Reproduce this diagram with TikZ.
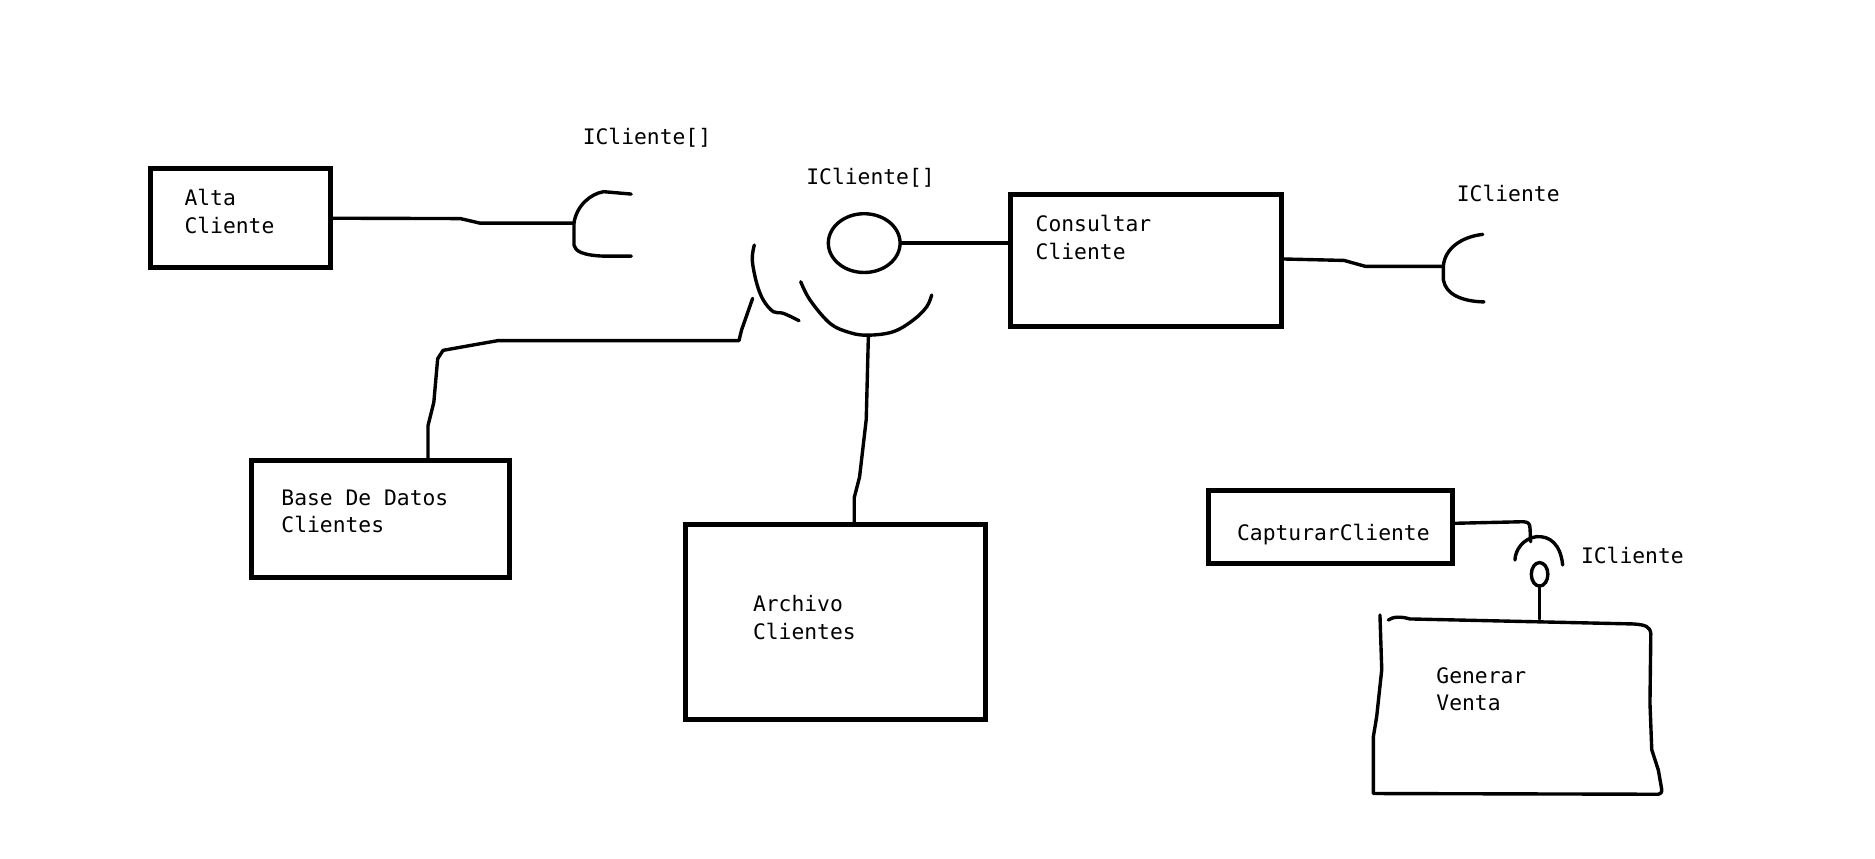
\documentclass[tikz,border=0pt]{standalone}
\usepackage{fontspec}
\setmonofont{DejaVu Sans Mono}
\usetikzlibrary{fit,shapes.geometric}
\begin{document}
\begin{tikzpicture}[x=0.6pt,y=-0.6pt,
  box/.style={draw,line width=2.5pt,inner sep=0pt},
  wire/.style={line width=1.7pt,line join=round,line cap=round},
  txt/.style={anchor=base west,inner sep=0pt,align=left,
    font=\ttfamily\fontsize{10.7pt}{13.74pt}\selectfont},
  ball/.style={draw,ellipse,line width=1.7pt,inner sep=0pt}]
\useasboundingbox (0,0) rectangle (1568,718);

% components
\node[box,fit={(126,141)(276,224)}] (alta) {};
\node[box,fit={(845,163)(1072,273)}] (consultar) {};
\node[box,fit={(210,385)(426,483)}] (base) {};
\node[box,fit={(573,438.3)(824.5,601.5)}] (archivo) {};
\node[box,fit={(1010.5,410.4)(1214.8,471.3)}] (capturar) {};
\node[inner sep=0pt,fit={(1150,518)(1388,663)}] (generar) {};

% hand-drawn outline of Generar Venta
\draw[wire] (1161,518.5) .. controls (1165,515.5) and (1172,515.5) .. (1179,517.6)
  -- (1366,521.8) .. controls (1376,522.5) and (1380,524) .. (1380.5,530)
  -- (1379.8,588) -- (1381.3,627) -- (1386.8,644) -- (1389.6,660)
  .. controls (1389.6,663) .. (1386.8,664.2) -- (1149,663.6);
\draw[wire] (1154,514.3) -- (1155.5,560) -- (1151.3,599) -- (1148.5,616) -- (1148.5,663.6);

% texts (anchored at the baseline of their last line)
\node[txt] (altaT) at (154,194.9) {Alta\\Cliente};
\node[txt] (consT) at (865.8,216.9) {Consultar\\Cliente};
\node[txt] (baseT) at (235,445.4) {Base De Datos\\Clientes};
\node[txt] (archT) at (629.4,534.4) {Archivo\\Clientes};
\node[txt] (captT) at (1034.2,451.6) {CapturarCliente};
\node[txt] (genT) at (1200.9,594.3) {Generar\\Venta};

% interface labels
\node[txt] (lblA) at (487,121) {ICliente[]};
\node[txt] (lblB) at (674,154) {ICliente[]};
\node[txt] (lblC) at (1218,168.5) {ICliente};
\node[txt] (lblD) at (1321.8,471) {ICliente};

% provided interfaces (balls)
\node[ball,minimum width=36pt,minimum height=29.5pt] (ball1) at (722.7,203.3) {};
\node[ball,minimum width=8.3pt,minimum height=11.8pt] (ball2) at (1287.5,480.3) {};

% required interfaces (sockets)
\coordinate (sock1) at (480,186.6);
\draw[wire] (527.8,162.3) -- (504.8,160.3) .. controls (494,162) and (482,172) .. (sock1)
  -- (480,205) .. controls (481,210) and (487,213.5) .. (504.8,214.2) -- (528,214.2);
\coordinate (sock2) at (1207,222.8);
\draw[wire] (1240,196) .. controls (1222,198) and (1208,208) .. (sock2)
  -- (1207,234) .. controls (1209,246) and (1222,252) .. (1241,252.5);
\coordinate (sockA) at (726.2,280.3);
\draw[wire] plot[smooth,tension=0.6] coordinates {(669.6,235.6) (677.4,250.9) (694.1,270.4)
  (710.8,278.2) (sockA) (747,277.4) (763.8,267.6) (775,256.5) (779.1,246.7)};
\draw[wire] plot[smooth,tension=0.6] coordinates {(630.8,204.9) (629.1,217.4) (632.8,236.9)
  (638.3,250.9) (646.7,260.7) (655,262) (668.2,268.2)};
\coordinate (sock3) at (1280,453);
\draw[wire] (1266.9,468.3) .. controls (1267,460) and (1274,450) .. (1285,448.8)
  .. controls (1296,448) and (1305,455) .. (1306.8,472.5);

% connectors
\draw[wire] (alta.east) -- (385,182.8) -- (401.3,186.6) -- (sock1);
\draw[wire] (consultar.east |- 0,216.6) -- (1124,217.8) -- (1142,222.8) -- (sock2);
\draw[wire] (ball1.east) -- (ball1.east -| consultar.west);
\draw[wire] (sockA) -- (724.4,350.8) -- (718.8,399) -- (714.4,416) -- (714.4,0 |- archivo.north);
\coordinate (baseEnd) at (629.4,249.5);
\draw[wire] (357.9,0 |- base.north) -- (357.9,356.1) -- (362.8,336.3) -- (366,300)
  -- (370.5,293) -- (394.5,288.7) -- (416.8,284.8) -- (618,284.8) -- (620.1,276.1) -- (baseEnd);
\draw[wire] (capturar.east |- 0,437.6) -- (1273.9,436.3)
  .. controls (1278,436.5) and (1279.5,438) .. (1279.5,442) -- (sock3);
\draw[wire] (ball2.south) -- (ball2.south |- generar.north);
\end{tikzpicture}
\end{document}
